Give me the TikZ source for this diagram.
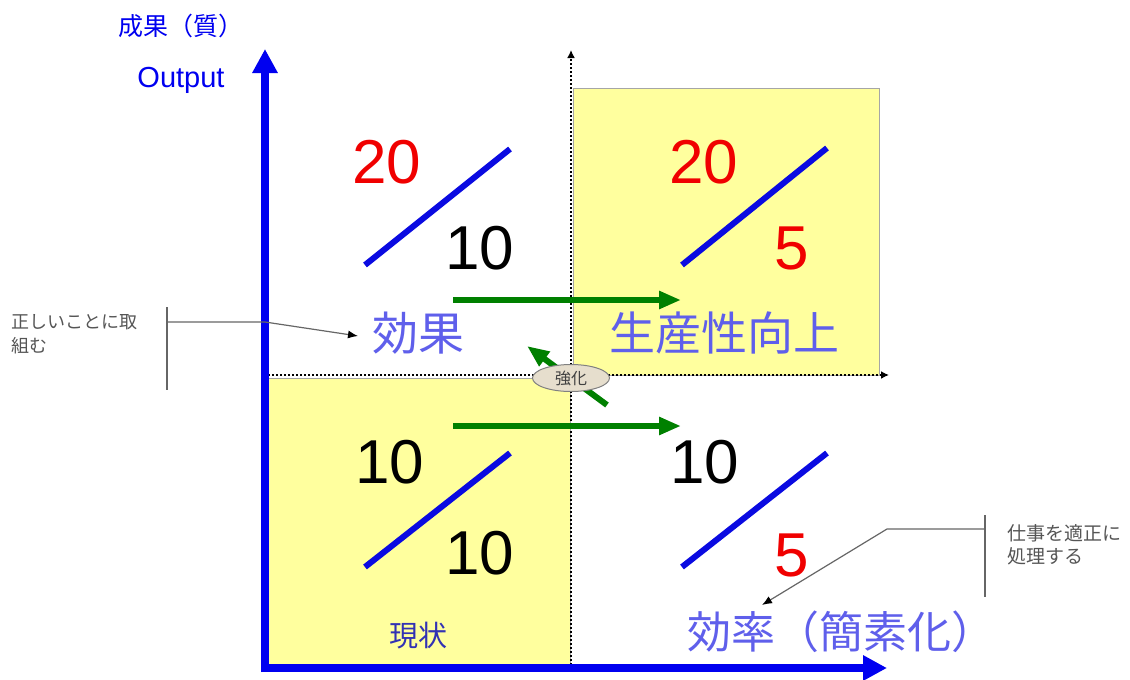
\documentclass[tikz,border=0pt]{standalone}
\usepackage{fontspec}
\setmainfont{Liberation Sans}
\newfontfamily\jp{Noto Sans CJK JP}
\usetikzlibrary{arrows.meta,shapes.geometric}
\definecolor{axisblue}{RGB}{0,0,240}
\definecolor{slashblue}{RGB}{10,10,225}
\definecolor{lblblue}{RGB}{95,95,235}
\definecolor{darkblue}{RGB}{50,50,180}
\definecolor{ybg}{RGB}{255,255,158}
\definecolor{numred}{RGB}{240,0,0}
\definecolor{garr}{RGB}{0,128,0}
\definecolor{calltxt}{RGB}{85,85,85}
\definecolor{ellfill}{RGB}{230,222,205}
\tikzset{
  ybox/.style={fill=ybg, draw=gray!70, line width=1pt},
  dotax/.style={line width=2.5pt, dash pattern=on 2pt off 2pt, -{Latex[length=8pt,width=8pt]}},
  axis/.style={line width=8pt, axisblue, -{Triangle[width=24pt,length=24pt]}},
  num/.style={inner sep=0pt, font=\fontsize{62}{62}\selectfont},
  slash/.style={line width=6pt, slashblue},
  lbl/.style={inner sep=0pt, text=lblblue, font=\jp\fontsize{46}{46}\selectfont},
  garrow/.style={line width=6pt, garr, -{Triangle[width=17pt,length=22pt]}},
  calltext/.style={inner sep=0pt, text=calltxt, align=left, anchor=north west},
  callline/.style={line width=1.2pt, draw=gray!80!black},
  calltip/.style={-{Latex[length=10pt,width=8pt,fill=black,color=black]}},
}
\begin{document}
\begin{tikzpicture}[x=1pt,y=-1pt]
\useasboundingbox (0,0) rectangle (1130,680);
% yellow boxes
\fill[ybox] (573,88) rectangle (879,375);
\fill[ybox] (268,378) rectangle (570,665);
% dotted axes
\coordinate (dvs) at (571,665); \coordinate (dve) at (571,50);
\coordinate (dhs) at (268,375); \coordinate (dhe) at (889,375);
\draw[dotax] (dvs) -- (dve);
\draw[dotax] (dhs) -- (dhe);
% blue axes
\coordinate (o) at (265,672); \coordinate (ytip) at (265,49);
\coordinate (o2) at (261,668); \coordinate (xtip) at (887,668);
\draw[axis] (o) -- (ytip);
\draw[axis] (o2) -- (xtip);
% axis labels
\node[inner sep=0pt, text=axisblue, font=\jp\fontsize{25}{25}\selectfont] (seika) at (181,26) {成果（質）};
\node[inner sep=0pt, text=axisblue, font=\fontsize{29}{29}\selectfont] (output) at (181,80) {Output};
% quadrant top-left
\node[num, text=numred] (tl1) at (387,162) {20};
\node[num, text=black] (tl2) at (480,248) {10};
\coordinate (tls) at (365,265); \coordinate (tle) at (510,149);
\draw[slash] (tls) -- (tle);
% quadrant top-right
\node[num, text=numred] (tr1) at (704,162) {20};
\node[num, text=numred] (tr2) at (792,248) {5};
\coordinate (trs) at (682,265); \coordinate (tre) at (827,148);
\draw[slash] (trs) -- (tre);
% quadrant bottom-left
\node[num, text=black] (bl1) at (390,462) {10};
\node[num, text=black] (bl2) at (480,553) {10};
\coordinate (bls) at (365,567); \coordinate (ble) at (510,453);
\draw[slash] (bls) -- (ble);
% quadrant bottom-right
\node[num, text=black] (br1) at (705,462) {10};
\node[num, text=numred] (br2) at (792,555) {5};
\coordinate (brs) at (682,567); \coordinate (bre) at (827,453);
\draw[slash] (brs) -- (bre);
% labels
\node[lbl] (kouka) at (418,333) {効果};
\node[lbl] (seisan) at (724,333) {生産性向上};
\node[lbl, anchor=west, font=\jp\fontsize{44}{44}\selectfont] (kouritsu) at (687,632) {効率（簡素化）};
\node[inner sep=0pt, text=darkblue, font=\jp\fontsize{29}{29}\selectfont] (genjo) at (418,636) {現状};
% green arrows
\coordinate (g1s) at (453,300); \coordinate (g1e) at (681,300);
\coordinate (g2s) at (453,426); \coordinate (g2e) at (681,426);
\coordinate (g3s) at (607,405); \coordinate (g3e) at (527,346);
\draw[garrow] (g1s) -- (g1e);
\draw[garrow] (g2s) -- (g2e);
\draw[garrow] (g3s) -- (g3e);
% ellipse
\node[ellipse, draw=gray, line width=1pt, fill=ellfill, minimum width=77pt, minimum height=27pt, inner sep=0pt,
      text=black!75, font=\jp\fontsize{16}{16}\selectfont] (kyoka) at (571,378) {強化};
% left callout
\node[calltext, font=\jp\fontsize{18}{24}\selectfont] (c1) at (11,314) {正しいことに取\\組む};
\coordinate (c1a) at (167,307); \coordinate (c1b) at (167,390);
\coordinate (c1m) at (167,322); \coordinate (c1k) at (265,322); \coordinate (c1t) at (358,336);
\draw[callline] (c1a) -- (c1b);
\draw[callline, calltip] (c1m) -- (c1k) -- (c1t);
% right callout
\node[calltext, font=\jp\fontsize{19}{23}\selectfont] (c2) at (1007,524) {仕事を適正に\\処理する};
\coordinate (c2a) at (985,515); \coordinate (c2b) at (985,597);
\coordinate (c2m) at (985,529); \coordinate (c2k) at (887,529); \coordinate (c2t) at (762,605);
\draw[callline] (c2a) -- (c2b);
\draw[callline, calltip] (c2m) -- (c2k) -- (c2t);
\end{tikzpicture}
\end{document}
